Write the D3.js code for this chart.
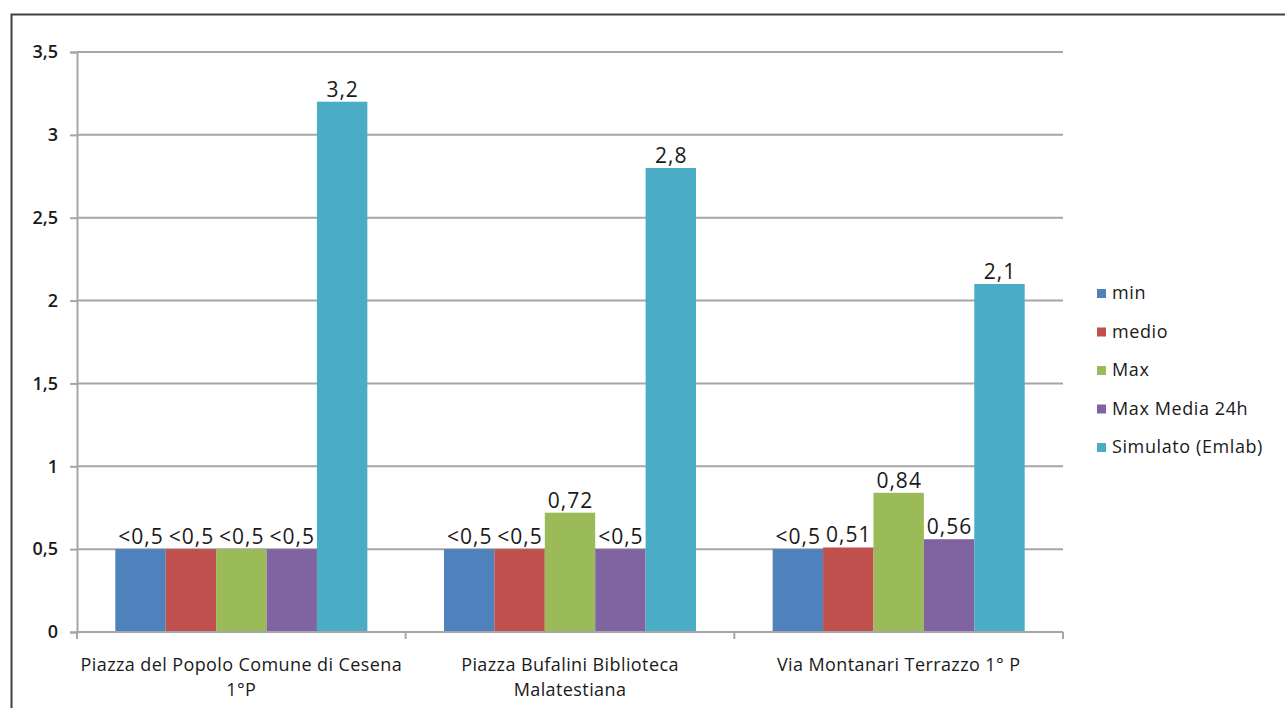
<!DOCTYPE html>
<html>
<head>
<meta charset="utf-8">
<script src="https://cdn.jsdelivr.net/npm/d3@7"></script>
<style>
  html, body { margin: 0; padding: 0; background: #fff; }
  svg { display: block; }
  text { font-family: "Open Sans", "Noto Sans", sans-serif; fill: #1a1a1a; }
</style>
</head>
<body>
<svg id="chart" width="1285" height="708"></svg>
<script>
// Stazioni di misura (etichette su due righe)
const categories = [
  ["Piazza del Popolo Comune di Cesena", "1°P"],
  ["Piazza Bufalini Biblioteca", "Malatestiana"],
  ["Via Montanari Terrazzo 1° P"]
];
const seriesNames = ["min", "medio", "Max", "Max Media 24h", "Simulato (Emlab)"];
const seriesColors = ["#4F81BD", "#C0504D", "#9BBB59", "#8064A2", "#4BACC6"];

// Valori per serie, nell'ordine delle stazioni
const minValues      = [0.5, 0.5, 0.5];
const medioValues    = [0.5, 0.5, 0.51];
const maxValues      = [0.5, 0.72, 0.84];
const maxMedia24h    = [0.5, 0.5, 0.56];
const simulatoValues = [3.2, 2.8, 2.1];

// Etichette di valore mostrate sopra le barre
const minLabels      = ["<0,5", "<0,5", "<0,5"];
const medioLabels    = ["<0,5", "<0,5", "0,51"];
const maxLabels      = ["<0,5", "0,72", "0,84"];
const maxMediaLabels = ["<0,5", "<0,5", "0,56"];
const simulatoLabels = ["3,2", "2,8", "2,1"];

const yTicks = [0, 0.5, 1, 1.5, 2, 2.5, 3, 3.5];
const yTickLabels = ["0", "0,5", "1", "1,5", "2", "2,5", "3", "3,5"];

const values = [minValues, medioValues, maxValues, maxMedia24h, simulatoValues];
const labels = [minLabels, medioLabels, maxLabels, maxMediaLabels, simulatoLabels];

const svg = d3.select("#chart");

// Cornice del grafico
svg.append("rect")
  .attr("x", 11.5).attr("y", 14.5)
  .attr("width", 1300).attr("height", 720)
  .attr("fill", "none").attr("stroke", "#404040").attr("stroke-width", 2);

const plot = { left: 77, right: 1063, top: 52, bottom: 632 };

const x0 = d3.scaleBand()
  .domain(d3.range(categories.length))
  .range([plot.left, plot.right])
  .paddingInner(0).paddingOuter(0);

const x1 = d3.scaleBand()
  .domain(d3.range(seriesNames.length))
  .range([0, x0.bandwidth()])
  .paddingInner(0).paddingOuter(0.76);

const y = d3.scaleLinear().domain([0, 3.5]).range([plot.bottom, plot.top]);

// Griglia orizzontale
svg.append("g")
  .selectAll("line")
  .data(yTicks.filter(t => t > 0))
  .join("line")
  .attr("x1", plot.left).attr("x2", plot.right)
  .attr("y1", d => y(d)).attr("y2", d => y(d))
  .attr("stroke", "#a6a6a6").attr("stroke-width", 2);

// Asse Y
const yAxis = d3.axisLeft(y)
  .tickValues(yTicks)
  .tickFormat((d, i) => yTickLabels[i])
  .tickSize(7).tickPadding(12);
const gy = svg.append("g").attr("transform", `translate(${plot.left},0)`).call(yAxis);
gy.attr("font-family", null).attr("font-size", null);
gy.select(".domain").attr("stroke", "#a6a6a6").attr("stroke-width", 2);
gy.selectAll(".tick line").attr("stroke", "#a6a6a6").attr("stroke-width", 2);
gy.selectAll(".tick text")
  .attr("fill", "#2a2a33")
  .style("font-size", "18px")
  .style("font-weight", "600");

// Barre
const groups = svg.append("g")
  .selectAll("g")
  .data(categories.map((c, i) => i))
  .join("g")
  .attr("transform", i => `translate(${x0(i)},0)`);

const cells = ci => seriesNames.map((s, si) => ({ si, v: values[si][ci], label: labels[si][ci] }));

groups.selectAll("rect")
  .data(cells)
  .join("rect")
  .attr("x", d => x1(d.si))
  .attr("width", x1.bandwidth())
  .attr("y", d => y(d.v))
  .attr("height", d => y(0) - y(d.v))
  .attr("fill", d => seriesColors[d.si]);

groups.selectAll("text.val")
  .data(cells)
  .join("text")
  .attr("class", "val")
  .attr("x", d => x1(d.si) + x1.bandwidth() / 2 + 0.5)
  .attr("y", d => y(d.v) - 5)
  .attr("text-anchor", "middle")
  .style("font-size", "21px")
  .style("letter-spacing", "1px")
  .text(d => d.label);

// Asse X
const gx = svg.append("g").attr("transform", `translate(0,${plot.bottom})`);
gx.append("line")
  .attr("x1", plot.left).attr("x2", plot.right)
  .attr("stroke", "#a6a6a6").attr("stroke-width", 2);
gx.selectAll("line.tick")
  .data(d3.range(categories.length + 1))
  .join("line")
  .attr("class", "tick")
  .attr("x1", i => plot.left + i * x0.bandwidth())
  .attr("x2", i => plot.left + i * x0.bandwidth())
  .attr("y1", 0).attr("y2", 7)
  .attr("stroke", "#a6a6a6").attr("stroke-width", 2);

const xl = gx.selectAll("text.cat")
  .data(categories)
  .join("text")
  .attr("class", "cat")
  .attr("text-anchor", "middle")
  .attr("x", (d, i) => x0(i) + x0.bandwidth() / 2)
  .attr("y", 39)
  .style("font-size", "18px")
  .style("letter-spacing", "0.4px");
xl.selectAll("tspan")
  .data(d => d)
  .join("tspan")
  .attr("x", function () { return d3.select(this.parentNode).attr("x"); })
  .attr("dy", (d, i) => i === 0 ? 0 : 25)
  .text(d => d);

// Legenda
const legend = svg.append("g").attr("transform", "translate(1097,293)");
const li = legend.selectAll("g")
  .data(seriesNames)
  .join("g")
  .attr("transform", (d, i) => `translate(0,${i * 38.5})`);
li.append("rect")
  .attr("x", 0).attr("y", -4).attr("width", 9).attr("height", 9)
  .attr("fill", (d, i) => seriesColors[i]);
li.append("text")
  .attr("x", 15).attr("y", 6)
  .style("font-size", "18px")
  .style("letter-spacing", "0.6px")
  .text(d => d);
</script>
</body>
</html>
